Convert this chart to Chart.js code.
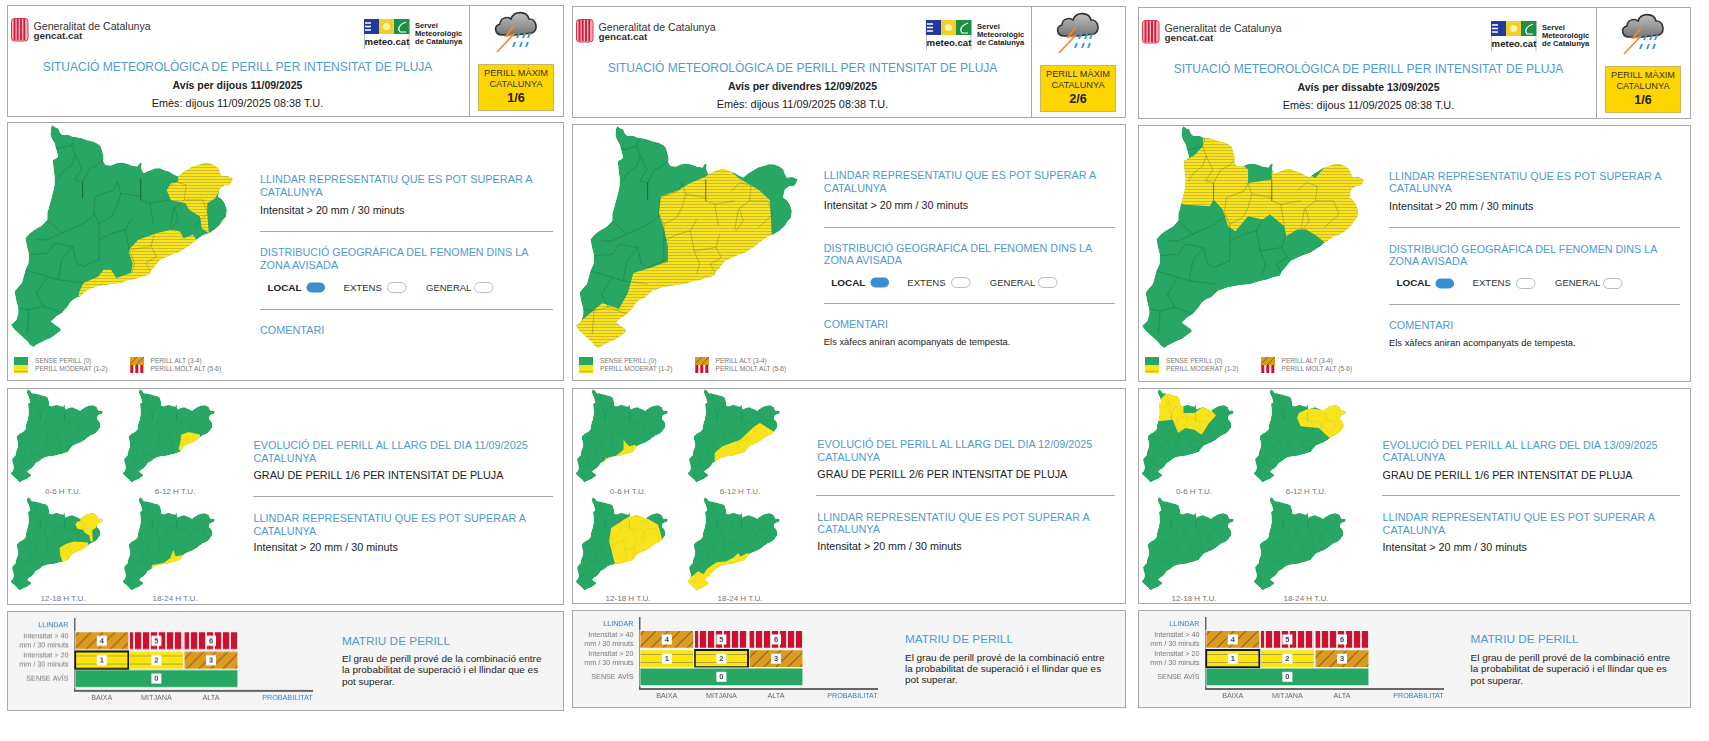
<!DOCTYPE html>
<html lang="ca">
<head>
<meta charset="UTF-8" />
<title>Avisos meteocat - perill per intensitat de pluja</title>
<script src="https://cdn.jsdelivr.net/npm/chart.js"></script>
<style>
  html, body { margin: 0; padding: 0; background: #fff; }
  body { width: 1709px; height: 741px; position: relative; overflow: hidden; font-family: "Liberation Sans", Arial, sans-serif; color: #222; filter: blur(0.35px); }
  .box { position: absolute; box-sizing: border-box; border: 1px solid #a9a9a9; background: #fff; }
  .t { position: absolute; white-space: nowrap; transform: translateY(-50%); line-height: 1; }
  .c { transform: translate(-50%, -50%); }
  .blue { color: #4f9ad0; font-size: 10.85px; }
  .body { font-size: 10.75px; color: #222; }
  .hr { position: absolute; height: 1px; background: #a8a8a8; }
  canvas { position: absolute; }
  svg { position: absolute; overflow: visible; }
</style>
</head>
<body>
<script>
  const catOutline = [[143,375],[152,382],[160,385],[165,398],[172,405],[188,404],[200,410],[213,412],[225,415],[240,421],[258,425],[270,432],[278,440],[281,455],[285,470],[284,484],[290,495],[305,497],[320,490],[333,488],[345,490],[355,494],[362,497],[378,500],[385,488],[390,490],[388,505],[395,520],[405,514],[415,510],[428,505],[440,505],[452,511],[465,515],[478,524],[490,530],[503,518],[515,510],[530,500],[545,495],[560,490],[575,490],[590,497],[600,505],[604,518],[610,530],[625,528],[640,535],[636,546],[630,555],[617,556],[605,565],[602,578],[600,590],[610,598],[618,610],[624,630],[622,650],[612,662],[605,675],[590,690],[575,700],[558,706],[540,720],[530,728],[520,738],[508,745],[495,755],[470,765],[440,780],[432,790],[425,800],[415,812],[410,825],[390,830],[370,838],[350,842],[330,850],[310,852],[290,855],[265,860],[240,870],[230,880],[220,890],[208,895],[195,905],[185,922],[170,940],[155,950],[140,965],[152,975],[165,985],[168,992],[165,995],[152,1005],[140,1015],[125,1022],[110,1030],[100,1035],[92,1042],[82,1035],[75,1025],[62,1012],[50,1000],[40,990],[30,975],[38,968],[45,960],[50,942],[50,925],[44,900],[40,875],[50,862],[60,850],[65,830],[70,810],[78,790],[80,765],[74,740],[70,715],[82,700],[95,690],[115,677],[130,660],[130,640],[135,620],[140,600],[145,580],[150,555],[150,530],[147,505],[145,480],[155,475],[160,470],[155,450],[150,430],[142,415],[138,400],[140,385]];

  const comarcaLines = [
    [[140,436],[162,446],[197,436],[207,401]],
    [[197,436],[207,466],[197,496],[172,516],[157,541]],
    [[207,466],[225,506],[205,540],[227,546],[227,596]],
    [[287,476],[267,496],[247,506],[227,546]],
    [[322,546],[312,570],[262,590],[257,640],[272,670],[307,650],[322,620],[332,580],[322,546]],
    [[387,536],[387,600],[412,610],[422,676]],
    [[332,580],[387,590]],
    [[457,570],[482,545],[512,555],[507,600],[477,625],[467,686]],
    [[507,600],[532,600],[557,600],[572,640],[532,680]],
    [[412,610],[467,600]],
    [[130,660],[170,700],[210,680],[230,670],[265,640]],
    [[100,720],[130,720],[170,700]],
    [[80,765],[130,760],[150,730],[200,740]],
    [[200,740],[210,790],[230,800],[270,780],[272,670]],
    [[272,720],[310,700],[345,690],[362,656]],
    [[345,690],[355,750],[370,790],[362,820]],
    [[425,700],[415,740],[430,770],[400,790],[415,820]],
    [[355,750],[415,740]],
    [[480,625],[490,660],[470,690]],
    [[200,740],[170,780],[160,840],[130,830],[70,810]],
    [[160,840],[230,850]],
    [[130,830],[100,880],[120,920],[80,930],[50,925]],
    [[120,920],[170,940]],
    [[80,930],[75,1000]]
  ];

  // yellow zones, day maps
  const day1North = [[490,530],[515,505],[545,490],[575,485],[605,500],[615,525],[650,535],[635,560],[605,568],[592,595],[570,610],[570,640],[574,700],[555,685],[550,650],[520,630],[510,610],[470,600],[458,570],[470,550],[490,545]];
  const day1Coast = [[355,750],[380,720],[430,700],[470,690],[495,695],[505,715],[530,705],[545,725],[500,770],[440,800],[420,850],[300,880],[240,890],[215,900],[218,875],[230,850],[270,830],[285,810],[305,810],[320,835],[360,820],[365,790],[355,760]];
  const day2Zone = [[263,587],[313,567],[343,547],[388,527],[413,500],[443,498],[478,532],[493,542],[533,567],[563,597],[566,647],[568,697],[600,730],[540,760],[440,810],[400,860],[300,890],[220,910],[180,1000],[100,1060],[20,1000],[20,975],[48,957],[103,907],[148,925],[173,877],[188,817],[233,802],[283,782],[283,737],[273,687],[258,637]];
  const day3Zone = [[197,436],[200,395],[227,405],[272,420],[287,476],[322,506],[322,546],[387,536],[387,511],[427,500],[467,505],[507,531],[532,500],[572,485],[607,495],[655,535],[660,600],[650,670],[590,710],[532,725],[512,706],[482,686],[457,686],[427,706],[422,676],[382,641],[362,656],[322,646],[307,666],[287,691],[267,676],[252,626],[227,596],[217,616],[142,611],[125,556],[125,496],[177,461]];

  // yellow zones, six hourly maps
  const h1_6_12 = [[417,701],[465,682],[540,700],[545,740],[440,800],[417,840],[400,800],[410,761]];
  const h1_12_18 = [[353,739],[395,710],[448,692],[540,700],[545,735],[412,835],[377,850],[358,790]];
  const h1_18_24 = [[218,895],[226,860],[300,845],[345,811],[365,751],[381,799],[429,787],[445,790],[405,850],[300,880]];
  const h2_0_6 = [[218,895],[226,870],[300,850],[347,808],[347,737],[384,785],[420,773],[445,790],[396,850],[300,880]];
  const h2_6_12 = [[209,890],[209,832],[257,785],[377,737],[472,641],[508,618],[600,680],[540,760],[448,810],[380,860],[221,900]];
  const h2_12_18 = [[420,490],[348,537],[264,596],[252,692],[285,835],[300,880],[408,870],[610,710],[575,572],[479,513]];
  const h2_18_24 = [[20,980],[50,950],[100,905],[135,925],[161,885],[221,840],[281,835],[330,810],[365,775],[380,800],[424,775],[445,790],[400,850],[300,880],[200,910],[180,1000],[92,1060],[20,1000]];
  const h3_0_6 = [[140,462],[200,400],[267,420],[307,498],[307,546],[379,546],[427,506],[486,522],[522,563],[475,618],[427,701],[379,665],[319,653],[271,689],[236,594],[125,606]];
  const h3_6_12 = [[317,582],[329,546],[401,510],[472,522],[532,485],[604,490],[660,540],[660,650],[532,725],[460,653],[341,641]];

  const dayZones = [[day1North, day1Coast], [day2Zone], [day3Zone]];
  const hourZones = [
    [[], [h1_6_12], [day1North, h1_12_18], [h1_18_24]],
    [[h2_0_6], [h2_6_12], [h2_12_18], [h2_18_24]],
    [[h3_0_6], [h3_6_12], [], []]
  ];

  const timeBands = ['0-6 H T.U.', '6-12 H T.U.', '12-18 H T.U.', '18-24 H T.U.'];
  const avisTitles = ['Avís per dijous 11/09/2025', 'Avís per divendres 12/09/2025', 'Avís per dissabte 13/09/2025'];
  const evolDates = ['11/09/2025', '12/09/2025', '13/09/2025'];
  const maxGrades = ['1/6', '2/6', '1/6'];
  const comments = ['', 'Els xàfecs aniran acompanyats de tempesta.', 'Els xàfecs aniran acompanyats de tempesta.'];

  // danger matrix
  const probLabels = ['BAIXA', 'MITJANA', 'ALTA', 'PROBABILITAT'];
  const probTicks = [0.5, 1.5, 2.5, 3.9];
  const rowLabels = ['SENSE AVÍS', ['Intensitat > 20', 'mm / 30 minuts'], ['Intensitat > 40', 'mm / 30 minuts'], 'LLINDAR'];
  const rowLevels = [1, 1.98, 3.02, 3.86];
  const baixaSpan = [3, 1, 1];
  const baixaGrades = [0, 1, 4];
  const mitjanaGrades = [2, 5];
  const altaGrades = [3, 6];
  const activeGrades = [1, 2, 1];

  // page layout of the three bulletins
  const panelX = [7, 572, 1138];
  const panelW = [557, 554, 553];
  const headBox = [[5, 117], [6, 118], [7, 119]];
  const mapBox = [[122, 381], [124, 381], [125, 382]];
  const evolBox = [[388, 605], [388, 604], [388, 604]];
  const matrixBox = [[611, 711], [610, 708], [610, 708]];
  const mapTop = [120, 121, 121.3];
  const textX = [253, 251.8, 251];
  const textY = [
    [179.3, 192.3, 210, 231, 252, 265, 287.7, 309, 330.3, 342],
    [175.3, 187.5, 205, 226.7, 248, 260, 282.7, 303, 324, 342],
    [176, 188.3, 205.7, 227.3, 248.7, 260.7, 283.3, 304, 325, 342.7]
  ];
  const evolX = [246.5, 245.3, 244.6];
  const evolY = [
    [445, 457.7, 475.3, 496.3, 517.7, 530.7, 547.3],
    [444, 457, 474.3, 495.3, 516.7, 529.3, 546.3],
    [444.5, 457.3, 475, 495.3, 517, 530, 546.7]
  ];
  const matrixTop = [619.3, 617.7, 617.7];
  const matrixTextX = [335, 333, 332.6];
  const matrixTextY = [[641.7, 659.3, 670.3, 682], [639.7, 657.7, 668.7, 680.3], [640, 658, 669, 680.5]];

  const GREEN = '#27a763', YELLOW = '#f8e31c', BLUE = '#4f9ad0', SOFT_BG = '#f5f5f5';

  function makePattern(w, h, draw) {
    const c = document.createElement('canvas');
    c.width = w; c.height = h;
    const g = c.getContext('2d');
    draw(g, w, h);
    return document.createElement('canvas').getContext('2d').createPattern(c, 'repeat');
  }
  const hatchYellow = makePattern(1, 3, (g, w, h) => {
    g.fillStyle = YELLOW; g.fillRect(0, 0, w, h);
    g.fillStyle = '#cfbc2a'; g.fillRect(0, 2, w, 1);
  });
  const cellYellow = makePattern(4, 8, (g, w, h) => {
    g.fillStyle = '#fbe60e'; g.fillRect(0, 0, w, h);
    g.fillStyle = '#b5a63a'; g.fillRect(0, 7, w, 1);
  });
  const cellOrange = makePattern(12, 12, (g, w, h) => {
    g.fillStyle = '#dd9a1e'; g.fillRect(0, 0, w, h);
    g.strokeStyle = '#8c6526'; g.lineWidth = 1.1;
    g.beginPath(); g.moveTo(-2, 14); g.lineTo(14, -2); g.moveTo(-8, 8); g.lineTo(8, -8); g.moveTo(4, 20); g.lineTo(20, 4); g.stroke();
  });
  const cellRed = makePattern(8, 4, (g, w, h) => {
    g.fillStyle = '#cf112f'; g.fillRect(0, 0, w, h);
    g.fillStyle = '#f4d5d8'; g.fillRect(6, 0, 2, h);
  });
  const gradeFill = [GREEN, cellYellow, cellYellow, cellOrange, cellOrange, cellRed, cellRed];

  const pts = list => list.map(p => ({ x: p[0], y: p[1] }));

  // keeps the yellow zones inside the coast line
  const clipToOutline = {
    id: 'clipToOutline',
    beforeDatasetsDraw(chart) {
      const { x, y } = chart.scales, ctx = chart.ctx;
      ctx.save();
      ctx.beginPath();
      catOutline.forEach((p, i) => {
        const px = x.getPixelForValue(p[0]), py = y.getPixelForValue(p[1]);
        if (i === 0) ctx.moveTo(px, py); else ctx.lineTo(px, py);
      });
      ctx.closePath();
      ctx.clip();
    },
    afterDatasetsDraw(chart) { chart.ctx.restore(); }
  };

  function addCanvas(parent, left, top, w, h) {
    const c = document.createElement('canvas');
    c.width = w; c.height = h;
    c.style.cssText = `left:${left}px;top:${top}px;width:${w}px;height:${h}px`;
    parent.appendChild(c);
    return c;
  }

  function drawMap(canvas, zones, big) {
    const datasets = [{ data: pts(catOutline), backgroundColor: GREEN, borderWidth: 0, fill: 'shape' }];
    zones.forEach(z => datasets.push({ data: pts(z), backgroundColor: big ? hatchYellow : YELLOW, borderWidth: 0, fill: 'shape' }));
    comarcaLines.forEach(l => datasets.push({
      data: pts(l), borderColor: big ? 'rgba(25,65,40,0.42)' : 'rgba(25,80,45,0.12)', borderWidth: big ? 0.6 : 0.5, fill: false
    }));
    datasets.forEach((d, i) => { d.order = datasets.length - i; d.pointRadius = 0; d.tension = 0; });
    new Chart(canvas, {
      type: 'line',
      data: { datasets },
      options: {
        responsive: false, animation: false, events: [], devicePixelRatio: 1,
        layout: { padding: 0 },
        plugins: { legend: { display: false }, tooltip: { enabled: false } },
        scales: {
          x: { type: 'linear', display: false, min: 0, max: 660 },
          y: { type: 'linear', display: false, min: 360, max: 1060, reverse: true }
        }
      },
      plugins: [clipToOutline]
    });
  }

  const gradeSquares = {
    id: 'gradeSquares',
    afterDatasetsDraw(chart) {
      const ctx = chart.ctx;
      chart.data.datasets.forEach((d, di) => {
        chart.getDatasetMeta(di).data.forEach((bar, i) => {
          const c = bar.getCenterPoint();
          ctx.fillStyle = '#fff';
          ctx.fillRect(c.x - 5, c.y - 5, 10, 10);
          ctx.fillStyle = '#445';
          ctx.font = 'bold 7.5px "Liberation Sans"';
          ctx.textAlign = 'center'; ctx.textBaseline = 'middle';
          ctx.fillText(d.grades[i], c.x, c.y + 0.5);
        });
      });
    }
  };

  function drawMatrix(canvas, active) {
    const column = (data, grades) => ({
      data, grades,
      backgroundColor: grades.map(g => gradeFill[g]),
      borderColor: grades.map(g => g === active ? '#1a1a1a' : SOFT_BG),
      borderWidth: grades.map(g => g === active ? 2 : 1.2),
      borderSkipped: false, barThickness: 18.5
    });
    const datasets = [
      column(baixaSpan.map((v, i) => ({ x: v, y: rowLevels[i] })), baixaGrades),
      column(mitjanaGrades.map((g, i) => ({ x: 1, y: rowLevels[i + 1] })), mitjanaGrades),
      column(altaGrades.map((g, i) => ({ x: 1, y: rowLevels[i + 1] })), altaGrades)
    ];
    const tickFont = { family: '"Liberation Sans"', size: 7.2 };
    new Chart(canvas, {
      type: 'bar',
      data: { datasets },
      options: {
        indexAxis: 'y', responsive: false, animation: false, events: [], devicePixelRatio: 1,
        layout: { padding: { top: 11, right: 12 } },
        plugins: { legend: { display: false }, tooltip: { enabled: false } },
        scales: {
          x: {
            type: 'linear', stacked: true, offset: false, bounds: 'data', min: 0, max: 4.35, position: 'bottom',
            grid: { display: false, drawTicks: false },
            border: { display: true, color: '#666', width: 2 },
            afterBuildTicks: s => { s.ticks = probTicks.map(v => ({ value: v })); },
            afterFit: s => { s.height = 17; },
            ticks: {
              autoSkip: false, maxRotation: 0, padding: 2.5, font: tickFont,
              color: c => c.index === 3 ? '#2f7fc1' : '#666',
              callback: (v, i) => probLabels[i]
            }
          },
          y: {
            type: 'linear', stacked: true, offset: false, bounds: 'data', min: 0.34, max: 4.18,
            grid: { display: false, drawTicks: false },
            border: { display: true, color: '#666', width: 1.5 },
            afterBuildTicks: s => { s.ticks = rowLevels.map(v => ({ value: v })); },
            afterFit: s => { s.width = 67.5; },
            ticks: {
              autoSkip: false, padding: 6, font: tickFont,
              color: c => c.index === 3 ? '#2f7fc1' : '#777',
              callback: (v, i) => rowLabels[i]
            }
          }
        }
      },
      plugins: [gradeSquares]
    });
  }

  function txt(parent, x, y, str, css, cls) {
    const d = document.createElement('div');
    d.className = 't ' + (cls || '');
    d.style.cssText = `left:${x}px;top:${y}px;${css || ''}`;
    d.textContent = str;
    parent.appendChild(d);
    return d;
  }
  function box(parent, top, bottom, w, bg) {
    const d = document.createElement('div');
    d.className = 'box';
    d.style.cssText = `left:0;top:${top}px;width:${w}px;height:${bottom - top}px;${bg ? 'background:' + bg : ''}`;
    parent.appendChild(d);
    return d;
  }
  function hr(parent, x, y, w) {
    const d = document.createElement('div');
    d.className = 'hr';
    d.style.cssText = `left:${x}px;top:${y}px;width:${w}px`;
    parent.appendChild(d);
  }
  function svg(parent, x, y, w, h, inner) {
    const wrap = document.createElement('div');
    wrap.style.cssText = `position:absolute;left:${x}px;top:${y}px`;
    wrap.innerHTML = `<svg width="${w}" height="${h}" viewBox="0 0 ${w} ${h}">${inner}</svg>`;
    parent.appendChild(wrap);
  }

  const gencatLogo = `<rect x="0.5" y="0.5" width="16.5" height="22.5" rx="3" fill="#f6b9c2" stroke="#d9334d"/>
    <path d="M3.5 1v21M6.7 1v21M10 1v21M13.3 1v21" stroke="#d21e3c" stroke-width="1.9"/>`;
  const meteoLogo = `<rect x="0" y="0" width="15" height="15" fill="#233a9c"/><rect x="15" y="0" width="15" height="15" fill="#f2cf2b"/>
    <circle cx="22.5" cy="7.5" r="3.6" fill="#fbf3a8"/><rect x="30" y="0" width="15.5" height="15" fill="#1f8f45"/>
    <path d="M1 4h6M1 7.5h6M1 11h6" stroke="#fff" stroke-width="1.4"/>
    <path d="M42 3C36 5 33 9 36 13h6" fill="none" stroke="#fff" stroke-width="1.2"/>
    <path d="M0.5 15v15M45 15v15" stroke="#aaa" stroke-width="0.8"/>`;
  const cloudIcon = `<defs><linearGradient id="cl" x1="0" y1="0" x2="0" y2="1"><stop offset="0" stop-color="#bfbfbf"/><stop offset="1" stop-color="#777"/></linearGradient></defs>
    <path d="M9 25C2 25 0 16 7 14C7 8 14 6 18 9C21 0 34 1 36 9C43 8 46 20 39 23L22 25Z" fill="url(#cl)" stroke="#333" stroke-width="1.6"/>
    <path d="M21 16L13 26L20 25L4 42" fill="none" stroke="#ee8a3a" stroke-width="1.7"/>
    <path d="M26 23l-2 5M32 23l-2 5M37 23l-2 5M22 32l-2 5M29 32l-2 5M35 32l-2 5" stroke="#3f9ad6" stroke-width="2"/>`;

  panelX.forEach((px, i) => {
    const w = panelW[i];
    const panel = document.createElement('div');
    panel.style.cssText = `position:absolute;left:${px}px;top:0;width:${w}px;height:741px`;
    document.body.appendChild(panel);

    // header
    box(panel, headBox[i][0], headBox[i][1], w);
    const hy = headBox[i][0] - 5;
    const divider = document.createElement('div');
    divider.style.cssText = `position:absolute;left:${w - 95.5}px;top:${headBox[i][0]}px;width:1px;height:${headBox[i][1] - headBox[i][0]}px;background:#a9a9a9`;
    panel.appendChild(divider);
    svg(panel, 4, 18 + hy, 18, 24, gencatLogo);
    txt(panel, 26.5, 25.7 + hy, 'Generalitat de Catalunya', 'font-size:10.6px;color:#333');
    txt(panel, 26.5, 36.3 + hy, 'gencat.cat', 'font-size:9.9px;color:#333;font-weight:bold');
    svg(panel, w - 200, 19 + hy, 46, 30, meteoLogo);
    txt(panel, w - 177, 42 + hy, 'meteo.cat', 'font-size:9.6px;color:#222;font-weight:bold', 'c');
    txt(panel, w - 149, 25.7 + hy, 'Servei', 'font-size:7.6px;color:#222;font-weight:bold');
    txt(panel, w - 149, 33.7 + hy, 'Meteorològic', 'font-size:7.6px;color:#222;font-weight:bold');
    txt(panel, w - 149, 41.7 + hy, 'de Catalunya', 'font-size:7.6px;color:#222;font-weight:bold');
    svg(panel, w - 71, 10 + hy, 46, 42, cloudIcon);
    const badge = document.createElement('div');
    badge.style.cssText = `position:absolute;box-sizing:border-box;left:${w - 86.5}px;top:${64.3 + hy}px;width:76.5px;height:46.5px;background:#ffd500;border:1px solid #c8b661`;
    panel.appendChild(badge);
    txt(panel, w - 48, 74 + hy, 'PERILL MÀXIM', 'font-size:9.2px;color:#333', 'c');
    txt(panel, w - 48, 84.8 + hy, 'CATALUNYA', 'font-size:9.2px;color:#333', 'c');
    txt(panel, w - 48, 98 + hy, maxGrades[i], 'font-size:12.5px;font-weight:bold;color:#222', 'c');
    txt(panel, 230.5, 66.7 + hy, 'SITUACIÓ METEOROLÒGICA DE PERILL PER INTENSITAT DE PLUJA', `font-size:12px;color:${BLUE}`, 'c');
    txt(panel, 230.5, 85 + hy, avisTitles[i], 'font-size:10.5px;font-weight:bold', 'c');
    txt(panel, 230.5, 102.7 + hy, 'Emès: dijous 11/09/2025 08:38 T.U.', 'font-size:10.9px', 'c');

    // big map with legend
    box(panel, mapBox[i][0], mapBox[i][1], w);
    drawMap(addCanvas(panel, -7, mapTop[i], 240, 233), dayZones[i], true);
    const ty = textY[i], tx = textX[i];
    txt(panel, tx, ty[0], 'LLINDAR REPRESENTATIU QUE ES POT SUPERAR A', '', 'blue');
    txt(panel, tx, ty[1], 'CATALUNYA', '', 'blue');
    txt(panel, tx, ty[2], 'Intensitat > 20 mm / 30 minuts', '', 'body');
    hr(panel, tx, ty[3], w - tx - 11);
    txt(panel, tx, ty[4], 'DISTRIBUCIÓ GEOGRÀFICA DEL FENOMEN DINS LA', 'font-size:10.75px', 'blue');
    txt(panel, tx, ty[5], 'ZONA AVISADA', '', 'blue');
    txt(panel, tx + 7.5, ty[6], 'LOCAL', 'font-size:9.9px;font-weight:bold', '');
    txt(panel, tx + 83.5, ty[6], 'EXTENS', 'font-size:9.6px;color:#333');
    txt(panel, tx + 166, ty[6], 'GENERAL', 'font-size:9.5px;color:#333');
    [[46, '#3a8fd0', 'none'], [127, 'none', '#bbb'], [214, 'none', '#bbb']].forEach(p => {
      svg(panel, tx + p[0], ty[6] - 5.5, 20, 11, `<rect x="0.5" y="0.5" width="18.5" height="10" rx="5" fill="${p[1]}" stroke="${p[2]}"/>`);
    });
    hr(panel, tx, ty[7], w - tx - 11);
    txt(panel, tx, ty[8], 'COMENTARI', '', 'blue');
    if (comments[i]) txt(panel, tx, ty[9], comments[i], 'font-size:9.4px');
    const ly = 361;
    svg(panel, 7, ly - 4, 14, 16, `<rect width="14" height="8" fill="${GREEN}"/><rect y="8" width="14" height="8" fill="${YELLOW}"/><rect y="14" width="14" height="0.8" fill="#b5a63a"/>`);
    svg(panel, 122.5, ly - 4, 14, 16, `<rect width="14" height="8" fill="#dd9a1e"/><path d="M0 7L7 0M6 8L14 0" stroke="#8c6526"/><path d="M1.8 8v8M6.8 8v8M11.8 8v8" stroke="#cf112f" stroke-width="3"/>`);
    [[28, 'SENSE PERILL (0)', 0], [28, 'PERILL MODERAT (1-2)', 8], [143.5, 'PERILL ALT (3-4)', 0], [143.5, 'PERILL MOLT ALT (5-6)', 8]].forEach(l => {
      txt(panel, l[0], ly + l[2], l[1], 'font-size:6.6px;color:#777');
    });

    // six hourly maps
    box(panel, evolBox[i][0], evolBox[i][1], w);
    timeBands.forEach((band, j) => {
      const col = j % 2, row = j > 1 ? 1 : 0;
      drawMap(addCanvas(panel, -0.7 + col * 112, 387.3 + row * 108, 100, 98), hourZones[i][j], false);
      txt(panel, 56 + col * 112, 491.7 + row * 107.6, band, 'font-size:8px;color:#777', 'c');
    });
    const ey = evolY[i], ex = evolX[i];
    txt(panel, ex, ey[0], 'EVOLUCIÓ DEL PERILL AL LLARG DEL DIA ' + evolDates[i], '', 'blue');
    txt(panel, ex, ey[1], 'CATALUNYA', '', 'blue');
    txt(panel, ex, ey[2], `GRAU DE PERILL ${maxGrades[i]} PER INTENSITAT DE PLUJA`, '', 'body');
    hr(panel, ex - 1, ey[3], w - ex - 10);
    txt(panel, ex, ey[4], 'LLINDAR REPRESENTATIU QUE ES POT SUPERAR A', '', 'blue');
    txt(panel, ex, ey[5], 'CATALUNYA', '', 'blue');
    txt(panel, ex, ey[6], 'Intensitat > 20 mm / 30 minuts', '', 'body');

    // danger matrix
    box(panel, matrixBox[i][0], matrixBox[i][1], w, SOFT_BG);
    drawMatrix(addCanvas(panel, 0, matrixTop[i] - 11, 317, 99.5), activeGrades[i]);
    const mx = matrixTextX[i], my = matrixTextY[i];
    txt(panel, mx, my[0], 'MATRIU DE PERILL', `font-size:11.8px;color:${BLUE}`);
    txt(panel, mx, my[1], 'El grau de perill prové de la combinació entre', 'font-size:9.95px');
    txt(panel, mx, my[2], 'la probabilitat de superació i el llindar que es', 'font-size:9.95px');
    txt(panel, mx, my[3], 'pot superar.', 'font-size:9.95px');
  });
</script>
</body>
</html>
